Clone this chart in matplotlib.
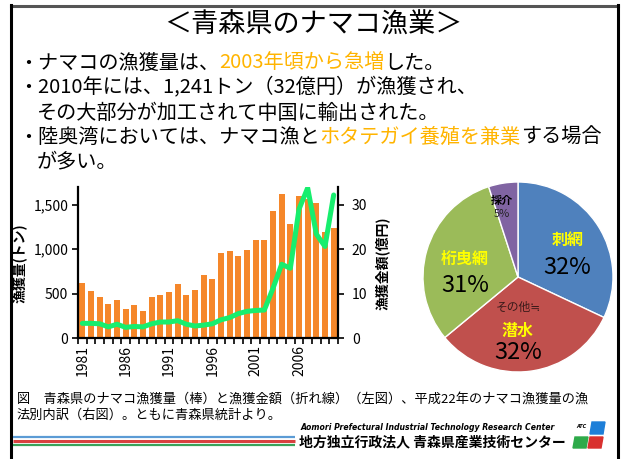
import numpy as np
import matplotlib
matplotlib.use("Agg")
import matplotlib.pyplot as plt
from matplotlib.patches import Rectangle, Polygon

plt.rcParams['font.family'] = ['Noto Sans CJK JP', 'DejaVu Sans']

# data
years = list(range(1981, 2011))
catch_t = [620, 534, 462, 387, 429, 327, 368, 301, 462, 485,
           519, 605, 485, 538, 711, 669, 959, 977, 925, 989,
           1098, 1098, 1425, 1620, 1282, 1602, 1560, 1515, 1188, 1241]
value_oku = [3.3, 3.3, 3.2, 2.5, 3.1, 2.4, 2.6, 2.5, 3.2, 3.6,
             3.6, 3.9, 3.1, 2.7, 2.9, 3.2, 4.1, 4.6, 5.5, 6.0,
             6.2, 6.3, 11.2, 16.6, 15.7, 29.0, 33.8, 23.4, 20.6, 32.2]
label_years = [1981, 1986, 1991, 1996, 2001, 2006]
left_ticks = [0, 500, 1000, 1500]
left_labels = ['0', '500', '1,000', '1,500']
right_ticks = [0, 10, 20, 30]

pie_names = ['刺網', '潜水', '桁曳網', '採介']
pie_shares = [32, 32, 31, 5]
pie_colors = ['#4F81BD', '#C0504D', '#9BBB59', '#8064A2']

W, H = 624, 459
fig = plt.figure(figsize=(W / 100, H / 100), dpi=100)

# background axes in pixel coords (y down)
bg = fig.add_axes([0, 0, 1, 1])
bg.set_xlim(0, W)
bg.set_ylim(H, 0)
bg.axis('off')

# slide frame
bg.plot([11, 618], [6, 6], color='#555555', lw=2.2)
bg.plot([11, 11], [5, H], color='black', lw=2.2)
bg.plot([618, 618], [5, H], color='black', lw=2.2)

# title
bg.text(313, 25, '＜青森県のナマコ漁業＞', fontsize=19.5, ha='center', va='center')

orange = '#FFB400'


def colored_line(x, y, parts, size):
    t = bg.text(x, y, parts[0][0], color=parts[0][1], fontsize=size, va='center', ha='left')
    for s, c in parts[1:]:
        t = bg.annotate(s, xy=(1, 0.5), xycoords=t, va='center', ha='left',
                        color=c, fontsize=size)


fs = 14.5
colored_line(18, 63, [('・ナマコの漁獲量は、', 'black'), ('2003年頃から急増', orange),
                      ('した。', 'black')], fs)
colored_line(18, 88, [('・2010年には、1,241トン（32億円）が漁獲され、', 'black')], fs)
colored_line(37, 113, [('その大部分が加工されて中国に輸出された。', 'black')], fs)
colored_line(18, 137, [('・陸奥湾においては、ナマコ漁と', 'black'), ('ホタテガイ養殖を兼業', orange),
                       ('する場合', 'black')], fs)
colored_line(37, 162, [('が多い。', 'black')], fs)

# caption
bg.text(17, 399, '図　青森県のナマコ漁獲量（棒）と漁獲金額（折れ線）（左図）、平成22年のナマコ漁獲量の漁',
        fontsize=9.5, va='center', ha='left')
bg.text(17, 415, '法別内訳（右図）。ともに青森県統計より。', fontsize=9.5, va='center', ha='left')

# footer stripes and logo
bg.plot([13, 295], [437, 437], color='#5B9BD5', lw=1.6, solid_capstyle='butt')
bg.plot([13, 295], [441, 441], color='#D9413F', lw=2.2, solid_capstyle='butt')
bg.plot([13, 295], [445, 445], color='#3AA35A', lw=1.6, solid_capstyle='butt')
bg.text(300, 427, 'Aomori Prefectural Industrial Technology Research Center', fontsize=5.6,
        fontweight='bold', style='italic', family='DejaVu Sans', va='center', ha='left')
bg.text(299, 442, '地方独立行政法人 青森県産業技術センター', fontsize=10, fontweight='bold',
        va='center', ha='left')
bg.add_patch(Polygon([(592, 422), (605, 422), (603, 434), (590, 434)], color='#1E7FD8'))
bg.add_patch(Polygon([(575, 437), (588, 437), (586, 448), (573, 448)], color='#2EAA4A'))
bg.add_patch(Polygon([(590, 437), (603, 437), (601, 448), (588, 448)], color='#D9302E'))
bg.text(581, 427, 'ATC', fontsize=3.5, fontweight='bold', style='italic', family='DejaVu Sans',
        va='center', ha='center')

# bar + line chart
ax = fig.add_axes([78 / W, 1 - 338 / H, 260 / W, 151 / H])
ax.bar(years, catch_t, width=0.68, color='#F5872A', zorder=2)
ax.set_xlim(1980.5, 2010.5)
ax.set_ylim(0, 1700)
ax.set_yticks(left_ticks)
ax.set_yticklabels(left_labels, fontsize=10)
ax.set_xticks(np.arange(1980.5, 2011, 1.0))
ax.set_xticklabels([])
ax.set_xticks(label_years, minor=True)
ax.set_xticklabels([str(y) for y in label_years], minor=True, rotation=90, fontsize=10)
ax.tick_params(axis='x', which='major', direction='out', length=4, width=1.2)
ax.tick_params(axis='x', which='minor', length=0, pad=5)
ax.tick_params(axis='y', direction='out', length=4, width=1.2, pad=3)
for s in ['top', 'right']:
    ax.spines[s].set_visible(False)
for s in ['left', 'bottom']:
    ax.spines[s].set_linewidth(1.6)

ax2 = ax.twinx()
ax2.plot(years, value_oku, color='#17EE6E', lw=3.6, solid_joinstyle='round',
         solid_capstyle='round', zorder=3)
ax2.set_ylim(0, 34)
ax2.set_yticks(right_ticks)
ax2.set_yticklabels([str(v) for v in right_ticks], fontsize=10)
ax2.tick_params(axis='y', direction='out', length=4, width=1.2, pad=6)
for s in ['top', 'left', 'bottom']:
    ax2.spines[s].set_visible(False)
ax2.spines['right'].set_linewidth(1.6)

bg.text(19, 263, '漁獲量(トン)', rotation=90, fontsize=10, fontweight='bold',
        ha='center', va='center')
bg.text(382, 263, '漁獲金額(億円)', rotation=90, fontsize=10, fontweight='bold',
        ha='center', va='center')

# pie chart
r = 95
cx, cy = 518, 277
pax = fig.add_axes([(cx - r) / W, 1 - (cy + r) / H, 2 * r / W, 2 * r / H])
pax.pie(pie_shares, colors=pie_colors, startangle=90, counterclock=False,
        wedgeprops=dict(edgecolor='white', linewidth=1))
pax.set_xlim(-1, 1)
pax.set_ylim(-1, 1)
pax.set_aspect('equal')
pax.axis('off')

yel = '#FFFF00'
pax.text(0.52, 0.39, pie_names[0], color=yel, fontsize=11.5, fontweight='bold', ha='center', va='center')
pax.text(0.52, 0.10, f'{pie_shares[0]}%', fontsize=17, ha='center', va='center')
pax.text(0.0, -0.32, 'その他≒', color='#3A1A1A', fontsize=8.5, ha='center', va='center')
pax.text(0.0, -0.57, pie_names[1], color=yel, fontsize=11.5, fontweight='bold', ha='center', va='center')
pax.text(0.0, -0.79, f'{pie_shares[1]}%', fontsize=17, ha='center', va='center')
pax.text(-0.56, 0.19, pie_names[2], color=yel, fontsize=11.5, fontweight='bold', ha='center', va='center')
pax.text(-0.56, -0.09, f'{pie_shares[2]}%', fontsize=17, ha='center', va='center')
pax.text(-0.17, 0.81, pie_names[3], fontsize=8, fontweight='bold', ha='center', va='center')
pax.text(-0.17, 0.66, f'{pie_shares[3]}%', color='#222222', fontsize=8, ha='center', va='center')

fig.savefig('out.png', dpi=100)
